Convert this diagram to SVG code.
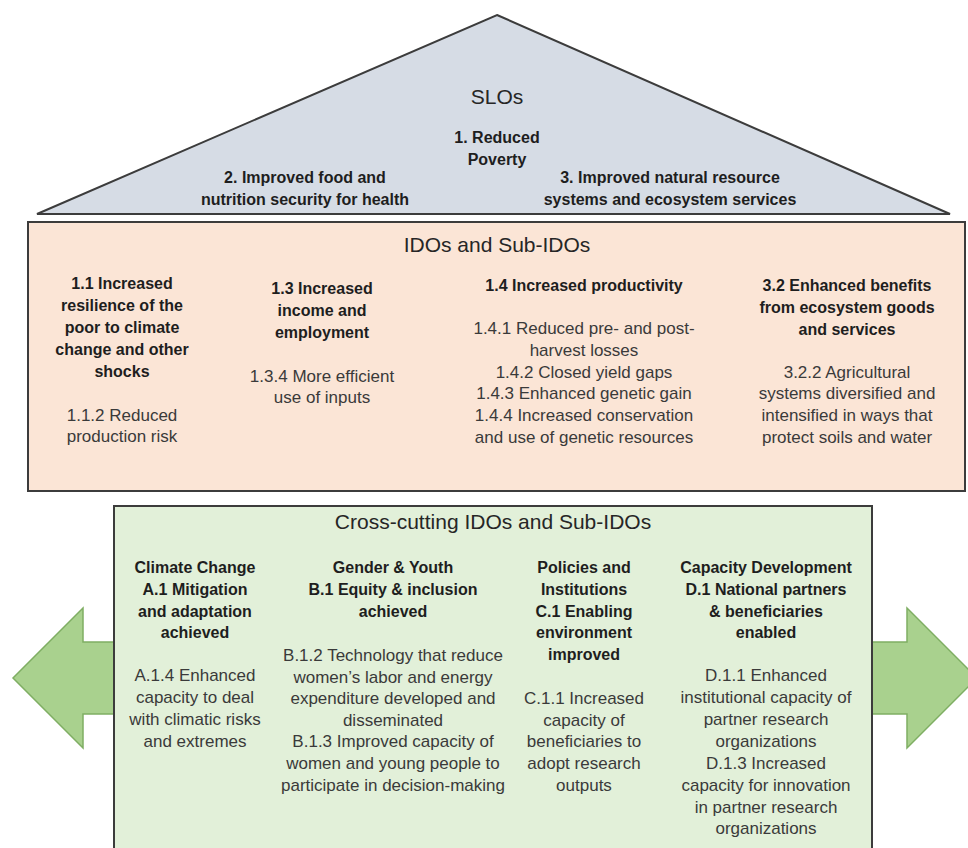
<svg xmlns="http://www.w3.org/2000/svg" width="968" height="848" viewBox="0 0 968 848">
  <style>
    text { font-family: "Liberation Sans", Arial, sans-serif; text-anchor: middle; }
    .title { font-size: 21px; fill: #262626; }
    .head { font-size: 16px; font-weight: bold; fill: #1e1e1e; }
    .body { font-size: 17px; fill: #3a3a3a; }
    .frame { stroke: #3c3c3c; stroke-width: 2; }
    .arrow { fill: #a9d18e; stroke: #7fae63; stroke-width: 1.5; }
  </style>
  <rect width="968" height="848" fill="#ffffff"/>

  <!-- side arrows, drawn first so the cross-cutting panel covers their shafts -->
  <g id="arrows">
    <polygon class="arrow" points="130,642 83,642 83,608 13,678 83,748 83,714 130,714"/>
    <polygon class="arrow" points="850,642 907,642 907,608 977,678 907,748 907,714 850,714"/>
  </g>

  <!-- roof: system level outcomes -->
  <g id="slo">
    <polygon class="frame" points="497,15 950,214 37,214" fill="#d6dce5"/>
    <text class="title" x="497" y="104">SLOs</text>
    <text class="head"><tspan x="497" y="143">1. Reduced</tspan><tspan x="497" y="165">Poverty</tspan></text>
    <text class="head"><tspan x="305" y="183">2. Improved food and</tspan><tspan x="305" y="205">nutrition security for health</tspan></text>
    <text class="head"><tspan x="670" y="183">3. Improved natural resource</tspan><tspan x="670" y="205">systems and ecosystem services</tspan></text>
  </g>

  <!-- intermediate development outcomes -->
  <g id="ido">
    <rect class="frame" x="28" y="222" width="937" height="269" fill="#fbe5d6"/>
    <text class="title" x="497" y="252">IDOs and Sub-IDOs</text>
  </g>
  <g id="ido-1-1">
    <text class="head"><tspan x="122" y="289">1.1 Increased</tspan><tspan x="122" y="311">resilience of the</tspan><tspan x="122" y="333">poor to climate</tspan><tspan x="122" y="355">change and other</tspan><tspan x="122" y="377">shocks</tspan></text>
    <text class="body"><tspan x="122" y="421">1.1.2 Reduced</tspan><tspan x="122" y="442">production risk</tspan></text>
  </g>
  <g id="ido-1-3">
    <text class="head"><tspan x="322" y="294">1.3 Increased</tspan><tspan x="322" y="316">income and</tspan><tspan x="322" y="338">employment</tspan></text>
    <text class="body"><tspan x="322" y="382">1.3.4 More efficient</tspan><tspan x="322" y="403">use of inputs</tspan></text>
  </g>
  <g id="ido-1-4">
    <text class="head" x="584" y="291">1.4 Increased productivity</text>
    <text class="body"><tspan x="584" y="334">1.4.1 Reduced pre- and post-</tspan><tspan x="584" y="356">harvest losses</tspan><tspan x="584" y="378">1.4.2 Closed yield gaps</tspan><tspan x="584" y="399">1.4.3 Enhanced genetic gain</tspan><tspan x="584" y="421">1.4.4 Increased conservation</tspan><tspan x="584" y="443">and use of genetic resources</tspan></text>
  </g>
  <g id="ido-3-2">
    <text class="head"><tspan x="847" y="291">3.2 Enhanced benefits</tspan><tspan x="847" y="313">from ecosystem goods</tspan><tspan x="847" y="335">and services</tspan></text>
    <text class="body"><tspan x="847" y="378">3.2.2 Agricultural</tspan><tspan x="847" y="399">systems diversified and</tspan><tspan x="847" y="421">intensified in ways that</tspan><tspan x="847" y="443">protect soils and water</tspan></text>
  </g>

  <!-- cross-cutting outcomes -->
  <g id="crosscutting">
    <rect class="frame" x="114" y="506" width="758" height="350" fill="#e2f0d9"/>
    <text class="title" x="493" y="529">Cross-cutting IDOs and Sub-IDOs</text>
  </g>
  <g id="cc-climate">
    <text class="head"><tspan x="195" y="573">Climate Change</tspan><tspan x="195" y="595">A.1 Mitigation</tspan><tspan x="195" y="617">and adaptation</tspan><tspan x="195" y="638">achieved</tspan></text>
    <text class="body"><tspan x="195" y="681">A.1.4 Enhanced</tspan><tspan x="195" y="703">capacity to deal</tspan><tspan x="195" y="725">with climatic risks</tspan><tspan x="195" y="747">and extremes</tspan></text>
  </g>
  <g id="cc-gender">
    <text class="head"><tspan x="393" y="573">Gender &amp; Youth</tspan><tspan x="393" y="595">B.1 Equity &amp; inclusion</tspan><tspan x="393" y="617">achieved</tspan></text>
    <text class="body"><tspan x="393" y="661">B.1.2 Technology that reduce</tspan><tspan x="393" y="683">women’s labor and energy</tspan><tspan x="393" y="704">expenditure developed and</tspan><tspan x="393" y="726">disseminated</tspan><tspan x="393" y="747">B.1.3 Improved capacity of</tspan><tspan x="393" y="769">women and young people to</tspan><tspan x="393" y="791">participate in decision-making</tspan></text>
  </g>
  <g id="cc-policies">
    <text class="head"><tspan x="584" y="573">Policies and</tspan><tspan x="584" y="595">Institutions</tspan><tspan x="584" y="617">C.1 Enabling</tspan><tspan x="584" y="638">environment</tspan><tspan x="584" y="660">improved</tspan></text>
    <text class="body"><tspan x="584" y="704">C.1.1 Increased</tspan><tspan x="584" y="726">capacity of</tspan><tspan x="584" y="747">beneficiaries to</tspan><tspan x="584" y="769">adopt research</tspan><tspan x="584" y="791">outputs</tspan></text>
  </g>
  <g id="cc-capacity">
    <text class="head"><tspan x="766" y="573">Capacity Development</tspan><tspan x="766" y="595">D.1 National partners</tspan><tspan x="766" y="617">&amp; beneficiaries</tspan><tspan x="766" y="638">enabled</tspan></text>
    <text class="body"><tspan x="766" y="681">D.1.1 Enhanced</tspan><tspan x="766" y="703">institutional capacity of</tspan><tspan x="766" y="725">partner research</tspan><tspan x="766" y="747">organizations</tspan><tspan x="766" y="769">D.1.3 Increased</tspan><tspan x="766" y="791">capacity for innovation</tspan><tspan x="766" y="813">in partner research</tspan><tspan x="766" y="834">organizations</tspan></text>
  </g>
</svg>
